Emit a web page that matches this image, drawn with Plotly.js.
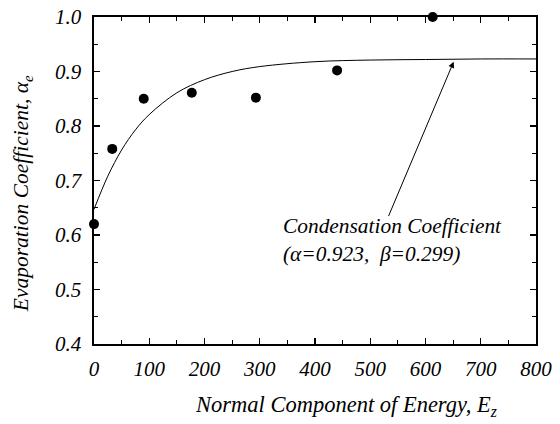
<!DOCTYPE html>
<html>
<head>
<meta charset="utf-8">
<script src="https://cdn.plot.ly/plotly-3.0.1.min.js"></script>
<style>html,body{margin:0;padding:0;background:#fff;}#chart{width:560px;height:424px;}</style>
</head>
<body>
<div id="chart"></div>
<script>
// Measured data points
var energyPts = [0, 33, 90, 177, 293, 440, 613];
var alphaPts = [0.620, 0.758, 0.850, 0.861, 0.852, 0.902, 1.000];
// Fitted condensation-coefficient curve
var energyCurve = [0, 25, 50, 75, 100, 150, 200, 250, 300, 400, 500, 600, 700, 800];
var alphaCurve = [0.647, 0.708, 0.756, 0.793, 0.821, 0.861, 0.885, 0.900, 0.909, 0.918, 0.921, 0.922, 0.923, 0.923];
var xTicks = [0, 100, 200, 300, 400, 500, 600, 700, 800];
var yTicks = [0.4, 0.5, 0.6, 0.7, 0.8, 0.9, 1.0];
var xTitle = 'Normal Component of Energy, E<sub>z</sub>';
var yTitle = 'Evaporation Coefficient, \u03b1<sub>e</sub>';
var fitLabel = 'Condensation Coefficient<br>(\u03b1=0.923,  \u03b2=0.299)';

var FONT = 'Liberation Serif';

var traces = [
  {x: energyCurve, y: alphaCurve, type: 'scatter', mode: 'lines',
   line: {color: '#000', width: 1, shape: 'spline'}, hoverinfo: 'none', cliponaxis: true},
  {x: energyPts, y: alphaPts, type: 'scatter', mode: 'markers',
   marker: {color: '#000', size: 10}, cliponaxis: false}
];

var axBase = {
  showgrid: false, zeroline: false, showline: true, linecolor: '#000', linewidth: 1.6,
  mirror: 'ticks', ticks: 'inside', ticklen: 6, tickwidth: 1.2, tickcolor: '#000',
  tickfont: {family: FONT, size: 21, color: '#000', style: 'italic'},
  minor: {ticks: 'inside', ticklen: 4, tickwidth: 1, tickcolor: '#000'}
};

var layout = {
  width: 560, height: 424,
  margin: {l: 94, r: 24, t: 17, b: 80},
  paper_bgcolor: '#fff', plot_bgcolor: '#fff',
  showlegend: false,
  font: {family: FONT, color: '#000'},
  xaxis: Object.assign({}, axBase, {
    range: [0, 800], tickvals: xTicks, ticktext: xTicks.map(String),
    ticklabelstandoff: 5,
    minor: Object.assign({}, axBase.minor, {dtick: 50, tick0: 0})
  }),
  yaxis: Object.assign({}, axBase, {
    range: [0.4, 1.0], tickvals: yTicks, ticktext: yTicks.map(function(v){return v.toFixed(1);}),
    ticklabelstandoff: 7,
    minor: Object.assign({}, axBase.minor, {dtick: 0.05, tick0: 0.4})
  }),
  annotations: [
    {x: 651, y: 0.918, xref: 'x', yref: 'y', ax: 532, ay: 0.632, axref: 'x', ayref: 'y',
     showarrow: true, arrowhead: 2, arrowsize: 1.2, arrowwidth: 1, arrowcolor: '#000', text: ''},
    {x: 339, y: 0.591, xref: 'x', yref: 'y', xanchor: 'left', yanchor: 'middle', showarrow: false,
     align: 'left', text: fitLabel,
     font: {family: FONT, size: 21.4, color: '#000', style: 'italic'}},
    {x: 0.57, y: -0.19, xref: 'paper', yref: 'paper', xanchor: 'center', yanchor: 'middle',
     showarrow: false, text: xTitle,
     font: {family: FONT, size: 22.5, color: '#000', style: 'italic'}},
    {x: -0.16, y: 0.459, xref: 'paper', yref: 'paper', xanchor: 'center', yanchor: 'middle',
     showarrow: false, textangle: -90, text: yTitle,
     font: {family: FONT, size: 21.5, color: '#000', style: 'italic'}}
  ]
};

Plotly.newPlot('chart', traces, layout, {staticPlot: true, displayModeBar: false});
</script>
</body>
</html>
